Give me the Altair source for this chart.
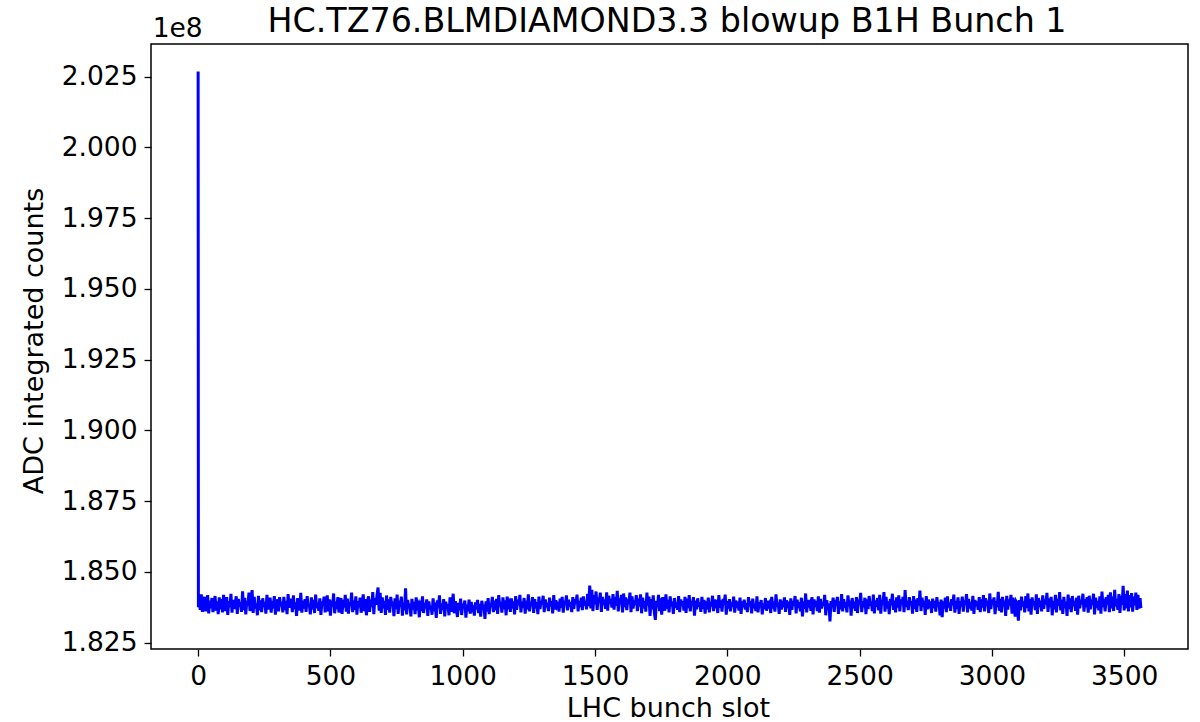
import altair as alt
import pandas as pd

# ---- data ----
# counts are stored in units of 1e4 ADC counts (the axis shows them in units of 1e8)
spike_slots = [0, 1]
spike_values = [20268, 18375]

# samples every 4 bunch slots, from slot 4 to slot 3560
band_values = [
    18402, 18366, 18421, 18359, 18395, 18412, 18361, 18380, 18418, 18354, 18399, 18372, 18408, 18358, 18390, 18415, 18363, 18396, 18351, 18410,
    18368, 18404, 18357, 18419, 18383, 18362, 18411, 18348, 18397, 18375, 18423, 18356, 18401, 18369, 18387, 18414, 18352, 18405, 18377, 18393,
    18359, 18432, 18365, 18409, 18350, 18398, 18381, 18427, 18362, 18403, 18436, 18355, 18412, 18371, 18389, 18347, 18416, 18364, 18400, 18358,
    18407, 18376, 18394, 18353, 18419, 18367, 18388, 18409, 18356, 18398, 18372, 18415, 18349, 18403, 18385, 18361, 18411, 18379, 18394, 18357,
    18412, 18365, 18398, 18351, 18422, 18374, 18390, 18406, 18358, 18417, 18369, 18393, 18345, 18408, 18381, 18364, 18426, 18356, 18399, 18371,
    18404, 18359, 18415, 18377, 18386, 18350, 18410, 18368, 18401, 18355, 18420, 18373, 18391, 18363, 18407, 18348, 18396, 18382, 18413, 18357,
    18392, 18417, 18361, 18403, 18346, 18399, 18378, 18424, 18354, 18395, 18369, 18411, 18357, 18387, 18408, 18352, 18401, 18374, 18419, 18360,
    18406, 18353, 18393, 18381, 18427, 18358, 18400, 18366, 18414, 18349, 18397, 18375, 18409, 18356, 18388, 18421, 18362, 18404, 18347, 18396,
    18414, 18359, 18402, 18376, 18429, 18351, 18408, 18384, 18418, 18445, 18363, 18426, 18355, 18410, 18372, 18398, 18348, 18417, 18366, 18403,
    18356, 18412, 18381, 18395, 18344, 18407, 18369, 18420, 18352, 18399, 18377, 18413, 18346, 18392, 18365, 18442, 18350, 18401, 18373, 18388,
    18343, 18405, 18367, 18394, 18351, 18410, 18378, 18386, 18340, 18399, 18362, 18414, 18355, 18391, 18372, 18403, 18345, 18396, 18368, 18381,
    18349, 18407, 18361, 18392, 18338, 18400, 18374, 18417, 18352, 18389, 18366, 18404, 18343, 18395, 18370, 18386, 18347, 18410, 18359, 18383,
    18423, 18354, 18397, 18372, 18341, 18391, 18365, 18406, 18348, 18388, 18376, 18399, 18339, 18385, 18362, 18402, 18353, 18394, 18371, 18380,
    18346, 18393, 18368, 18401, 18355, 18387, 18342, 18398, 18373, 18384, 18334, 18396, 18360, 18408, 18351, 18390, 18377, 18412, 18358, 18399,
    18364, 18405, 18352, 18418, 18378, 18394, 18356, 18410, 18369, 18400, 18347, 18413, 18382, 18391, 18359, 18407, 18371, 18396, 18350, 18415,
    18366, 18402, 18383, 18419, 18357, 18395, 18374, 18408, 18353, 18399, 18368, 18421, 18361, 18390, 18380, 18411, 18355, 18404, 18372, 18393,
    18351, 18413, 18369, 18398, 18385, 18416, 18358, 18403, 18376, 18391, 18362, 18409, 18379, 18397, 18354, 18418, 18367, 18400, 18382, 18394,
    18360, 18406, 18373, 18412, 18356, 18399, 18385, 18417, 18364, 18402, 18378, 18393, 18358, 18411, 18370, 18404, 18387, 18420, 18361, 18398,
    18376, 18409, 18365, 18414, 18382, 18398, 18368, 18423, 18379, 18452, 18371, 18437, 18362, 18418, 18386, 18431, 18366, 18409, 18393, 18427,
    18359, 18412, 18384, 18402, 18370, 18428, 18363, 18416, 18388, 18405, 18374, 18422, 18367, 18411, 18380, 18433, 18361, 18407, 18392, 18419,
    18357, 18424, 18376, 18410, 18365, 18403, 18389, 18427, 18358, 18414, 18371, 18399, 18385, 18418, 18362, 18406, 18379, 18421, 18354, 18409,
    18372, 18397, 18360, 18427, 18381, 18413, 18345, 18404, 18368, 18417, 18357, 18331, 18398, 18376, 18419, 18362, 18407, 18349, 18411, 18384,
    18363, 18421, 18370, 18401, 18357, 18414, 18379, 18395, 18352, 18408, 18374, 18392, 18366, 18415, 18358, 18403, 18381, 18397, 18364, 18412,
    18355, 18406, 18372, 18418, 18361, 18398, 18383, 18411, 18346, 18399, 18368, 18407, 18377, 18393, 18359, 18412, 18370, 18401, 18353, 18396,
    18368, 18409, 18357, 18394, 18379, 18416, 18362, 18403, 18384, 18391, 18355, 18418, 18373, 18400, 18360, 18405, 18389, 18420, 18349, 18397,
    18371, 18404, 18361, 18392, 18378, 18413, 18356, 18399, 18382, 18387, 18364, 18409, 18352, 18396, 18375, 18402, 18367, 18390, 18358, 18411,
    18380, 18397, 18354, 18406, 18372, 18385, 18362, 18414, 18357, 18393, 18376, 18401, 18350, 18389, 18369, 18408, 18363, 18398, 18383, 18391,
    18355, 18412, 18371, 18396, 18360, 18421, 18378, 18392, 18352, 18403, 18367, 18389, 18384, 18410, 18359, 18400, 18373, 18395, 18348, 18407,
    18366, 18398, 18381, 18415, 18354, 18402, 18374, 18393, 18361, 18409, 18343, 18396, 18370, 18424, 18357, 18401, 18385, 18392, 18363, 18411,
    18350, 18403, 18376, 18398, 18362, 18414, 18356, 18405, 18371, 18392, 18380, 18419, 18347, 18400, 18367, 18388, 18325, 18397, 18378, 18409,
    18359, 18401, 18383, 18412, 18352, 18396, 18368, 18422, 18361, 18404, 18374, 18393, 18357, 18417, 18379, 18399, 18346, 18408, 18372, 18395,
    18363, 18411, 18355, 18402, 18386, 18426, 18358, 18397, 18375, 18409, 18351, 18403, 18369, 18415, 18381, 18394, 18362, 18420, 18354, 18400,
    18377, 18408, 18364, 18419, 18353, 18401, 18386, 18429, 18360, 18412, 18371, 18396, 18351, 18405, 18382, 18423, 18366, 18399, 18357, 18410,
    18374, 18417, 18361, 18403, 18389, 18412, 18358, 18436, 18376, 18398, 18365, 18411, 18383, 18397, 18353, 18415, 18370, 18402, 18359, 18408,
    18381, 18434, 18362, 18409, 18377, 18399, 18348, 18415, 18368, 18402, 18386, 18395, 18355, 18406, 18373, 18398, 18360, 18411, 18379, 18393,
    18347, 18402, 18340, 18396, 18371, 18409, 18358, 18414, 18375, 18391, 18363, 18404, 18382, 18420, 18356, 18398, 18369, 18410, 18352, 18397,
    18378, 18413, 18360, 18400, 18385, 18422, 18357, 18405, 18371, 18394, 18364, 18416, 18352, 18401, 18380, 18396, 18366, 18411, 18358, 18403,
    18374, 18418, 18361, 18407, 18383, 18399, 18355, 18424, 18369, 18402, 18386, 18410, 18351, 18397, 18376, 18430, 18363, 18405, 18357, 18412,
    18380, 18399, 18345, 18416, 18367, 18403, 18382, 18419, 18353, 18409, 18372, 18342, 18395, 18388, 18328, 18401, 18364, 18413, 18378, 18396,
    18357, 18415, 18372, 18424, 18361, 18404, 18349, 18410, 18383, 18397, 18365, 18421, 18352, 18408, 18376, 18399, 18361, 18417, 18370, 18403,
    18386, 18426, 18359, 18407, 18375, 18412, 18347, 18398, 18368, 18419, 18357, 18405, 18381, 18429, 18364, 18401, 18352, 18412, 18373, 18395,
    18345, 18420, 18369, 18407, 18358, 18415, 18380, 18398, 18363, 18409, 18349, 18416, 18372, 18401, 18386, 18423, 18360, 18404, 18375, 18411,
    18356, 18416, 18368, 18402, 18384, 18423, 18350, 18409, 18373, 18398, 18364, 18414, 18353, 18431, 18376, 18405, 18361, 18411, 18385, 18419,
    18358, 18428, 18371, 18413, 18362, 18437, 18379, 18404, 18366, 18422, 18355, 18416, 18384, 18451, 18364, 18422, 18372, 18434, 18361, 18418,
    18375, 18425, 18360, 18413, 18382, 18427, 18366, 18419, 18371, 18408,
]
band_step = 4
last_slot = 3563
last_value = 18372

x_ticks = [0, 500, 1000, 1500, 2000, 2500, 3000, 3500]
y_ticks = [1.825, 1.850, 1.875, 1.900, 1.925, 1.950, 1.975, 2.000, 2.025]

title_text = "HC.TZ76.BLMDIAMOND3.3 blowup B1H Bunch 1"
x_label = "LHC bunch slot"
y_label = "ADC integrated counts"
offset_label = "1e8"

# ---- table (axis in units of 1e8 counts) ----
slots = spike_slots + [band_step * (i + 1) for i in range(len(band_values))] + [last_slot]
raw = spike_values + band_values + [last_value]
values = [v / 1e4 for v in raw]
df = pd.DataFrame({"slot": slots, "counts": values})

# matplotlib-like 5% margins
xmin, xmax = min(slots), max(slots)
ymin, ymax = min(values), max(values)
xpad = 0.05 * (xmax - xmin)
ypad = 0.05 * (ymax - ymin)

FONT = "DejaVu Sans"
W, H = 1037, 605

line = alt.Chart(df).mark_line(color="#0000ff", strokeWidth=3, clip=True).encode(
    x=alt.X("slot:Q",
            scale=alt.Scale(domain=[xmin - xpad, xmax + xpad], nice=False, zero=False),
            axis=alt.Axis(values=x_ticks, format="d", title=x_label,
                          titleX=517, titleY=67.7, titleBaseline="alphabetic",
                          titleAlign="center", titleAnchor="middle")),
    y=alt.Y("counts:Q",
            scale=alt.Scale(domain=[ymin - ypad, ymax + ypad], nice=False, zero=False),
            axis=alt.Axis(values=y_ticks, format=".3f", title=y_label,
                          titleX=-108.3, titleY=296.5, titleAngle=-90,
                          titleBaseline="alphabetic", titleAlign="center")),
)

offset_text = alt.Chart(pd.DataFrame({"t": [offset_label]})).mark_text(
    align="left", baseline="alphabetic", font=FONT, fontSize=26.5, color="black"
).encode(text="t:N", x=alt.value(1.7), y=alt.value(-7))

title_mark = alt.Chart(pd.DataFrame({"t": [title_text]})).mark_text(
    align="center", baseline="alphabetic", font=FONT, fontSize=33.3, color="black"
).encode(text="t:N", x=alt.value(516), y=alt.value(-12.3))

chart = (
    alt.layer(line, offset_text, title_mark)
    .properties(
        width=W, height=H,
        background="white",
        autosize=alt.AutoSizeParams(type="none"),
        padding={"left": 151, "top": 44, "right": 12, "bottom": 73},
    )
    .configure_view(stroke="black", strokeWidth=1.5)
    .configure_axis(
        grid=False, domain=False,
        labelFont=FONT, labelFontSize=26.5, labelColor="black",
        titleFont=FONT, titleFontSize=27, titleColor="black", titleFontWeight="normal",
        tickColor="black", tickWidth=1.3, tickSize=7, labelPadding=7,
    )
)

chart.save("out.html", embed_options={"renderer": "svg", "actions": False})
